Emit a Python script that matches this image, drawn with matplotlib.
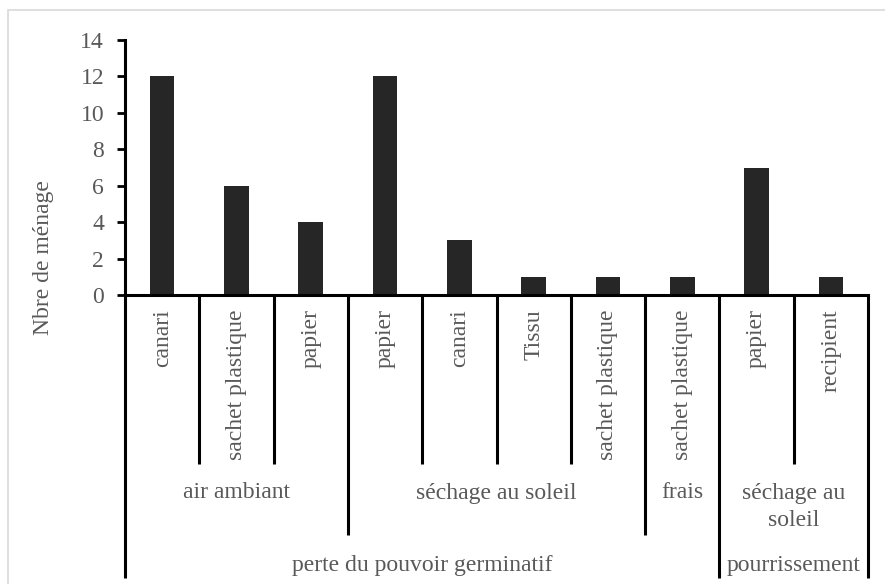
import matplotlib.pyplot as plt
from matplotlib.patches import Rectangle

plt.rcParams["font.family"] = "Liberation Serif"
plt.rcParams["font.size"] = 17

# Data
conteneurs = ["canari", "sachet plastique", "papier", "papier", "canari",
              "Tissu", "sachet plastique", "sachet plastique", "papier", "recipient"]
valeurs = [12, 6, 4, 12, 3, 1, 1, 1, 7, 1]
traitements = ["air ambiant", "séchage au soleil", "frais", "séchage au\nsoleil"]
traitement_n = [3, 4, 1, 2]
problemes = ["perte du pouvoir germinatif", "pourrissement"]
probleme_n = [8, 2]

W, H = 885, 584
fig = plt.figure(figsize=(W / 100, H / 100), dpi=100)

# axes box in pixels
x0, x1, y_top, y_bot = 125, 868, 40, 295
ax = fig.add_axes([x0 / W, 1 - y_bot / H, (x1 - x0) / W, (y_bot - y_top) / H])

txt = "#595959"
fs = 17
x = list(range(len(valeurs)))
ax.bar(x, valeurs, width=0.33, color="#262626")
ax.set_xlim(-0.5, len(valeurs) - 0.5)
ax.set_ylim(0, 14)
ax.set_yticks(range(0, 15, 2))
ax.tick_params(axis="y", direction="out", length=6, width=2, colors="black",
               labelcolor=txt, labelsize=fs, pad=9)
ax.set_xticks([])
for s in ["top", "right"]:
    ax.spines[s].set_visible(False)
ax.spines["left"].set_linewidth(2.2)
ax.spines["bottom"].set_linewidth(2.2)
fig.text(44 / W, 1 - 258 / H, "Nbre de ménage", rotation=90, ha="center",
         va="center", color=txt, fontsize=fs)


def fy(py):
    # pixel row -> axes fraction
    return (y_bot - py) / (y_bot - y_top)


tr = ax.get_xaxis_transform()
lv1, lv2, lv3 = 464, 535, 578

# level 1 labels
for i, lab in enumerate(conteneurs):
    ax.text(i, fy(309), lab, transform=tr, rotation=90, ha="center", va="top",
            color=txt, fontsize=fs, clip_on=False)

# boundaries
b2 = [0]
for n in traitement_n:
    b2.append(b2[-1] + n)
b3 = [0]
for n in probleme_n:
    b3.append(b3[-1] + n)

for k in range(len(valeurs) + 1):
    xb = k - 0.5
    if k in b3:
        bottom = lv3
    elif k in b2:
        bottom = lv2
    else:
        bottom = lv1
    ax.plot([xb, xb], [fy(y_bot), fy(bottom)], transform=tr, color="black",
            lw=2.2, clip_on=False, solid_capstyle="butt")

# level 2 labels (one text per line)
for j, lab in enumerate(traitements):
    xc = (b2[j] + b2[j + 1] - 1) / 2
    for li, line in enumerate(lab.split("\n")):
        ax.text(xc, fy(493 + 27 * li), line, transform=tr, ha="center",
                va="center", color=txt, fontsize=fs, clip_on=False)

# level 3 labels
for j, lab in enumerate(problemes):
    xc = (b3[j] + b3[j + 1] - 1) / 2
    ax.text(xc, fy(565), lab, transform=tr, ha="center", va="center",
            color=txt, fontsize=fs, clip_on=False)

# chart border
fig.patches.append(Rectangle((8 / W, -0.1), 1.1, 1 - 10 / H + 0.1,
                             transform=fig.transFigure, fill=False,
                             edgecolor="#d9d9d9", lw=1.2))

fig.savefig("out.png", dpi=100)
